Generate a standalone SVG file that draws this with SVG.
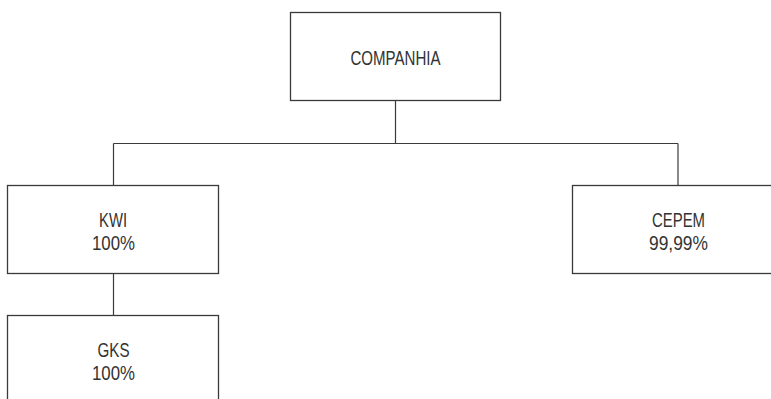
<svg xmlns="http://www.w3.org/2000/svg" width="771" height="399" viewBox="0 0 771 399">
<style>
.box{fill:#fff;stroke:#3a3a3a;stroke-width:1.3}
.ln{fill:none;stroke:#3a3a3a;stroke-width:1.2}
text{font-family:"Liberation Sans",Arial,sans-serif;font-size:21px;fill:#333;text-anchor:middle}
</style>
<rect width="771" height="399" fill="#fff"/>
<g id="connectors">
<path class="ln" d="M395.5 100.5V143.5M113.5 143.5H678M113.5 143.5V185.5M678 143.5V185.5M113.5 273V316"/>
</g>
<g id="companhia">
<rect class="box" x="290.5" y="12.5" width="210" height="88"/>
<text x="395.5" y="64.5" textLength="90" lengthAdjust="spacingAndGlyphs">COMPANHIA</text>
</g>
<g id="kwi">
<rect class="box" x="7.5" y="185.5" width="211" height="88"/>
<text x="113" y="227" textLength="28" lengthAdjust="spacingAndGlyphs">KWI</text>
<text x="113.5" y="249.5" textLength="43" lengthAdjust="spacingAndGlyphs">100%</text>
</g>
<g id="cepem">
<rect class="box" x="572.5" y="185.5" width="211" height="88"/>
<text x="678.5" y="227" textLength="53" lengthAdjust="spacingAndGlyphs">CEPEM</text>
<text x="678.5" y="249.5" textLength="59" lengthAdjust="spacingAndGlyphs">99,99%</text>
</g>
<g id="gks">
<rect class="box" x="7.5" y="315.5" width="211" height="90"/>
<text x="113.5" y="357" textLength="32" lengthAdjust="spacingAndGlyphs">GKS</text>
<text x="113.5" y="379.5" textLength="43" lengthAdjust="spacingAndGlyphs">100%</text>
</g>
</svg>
